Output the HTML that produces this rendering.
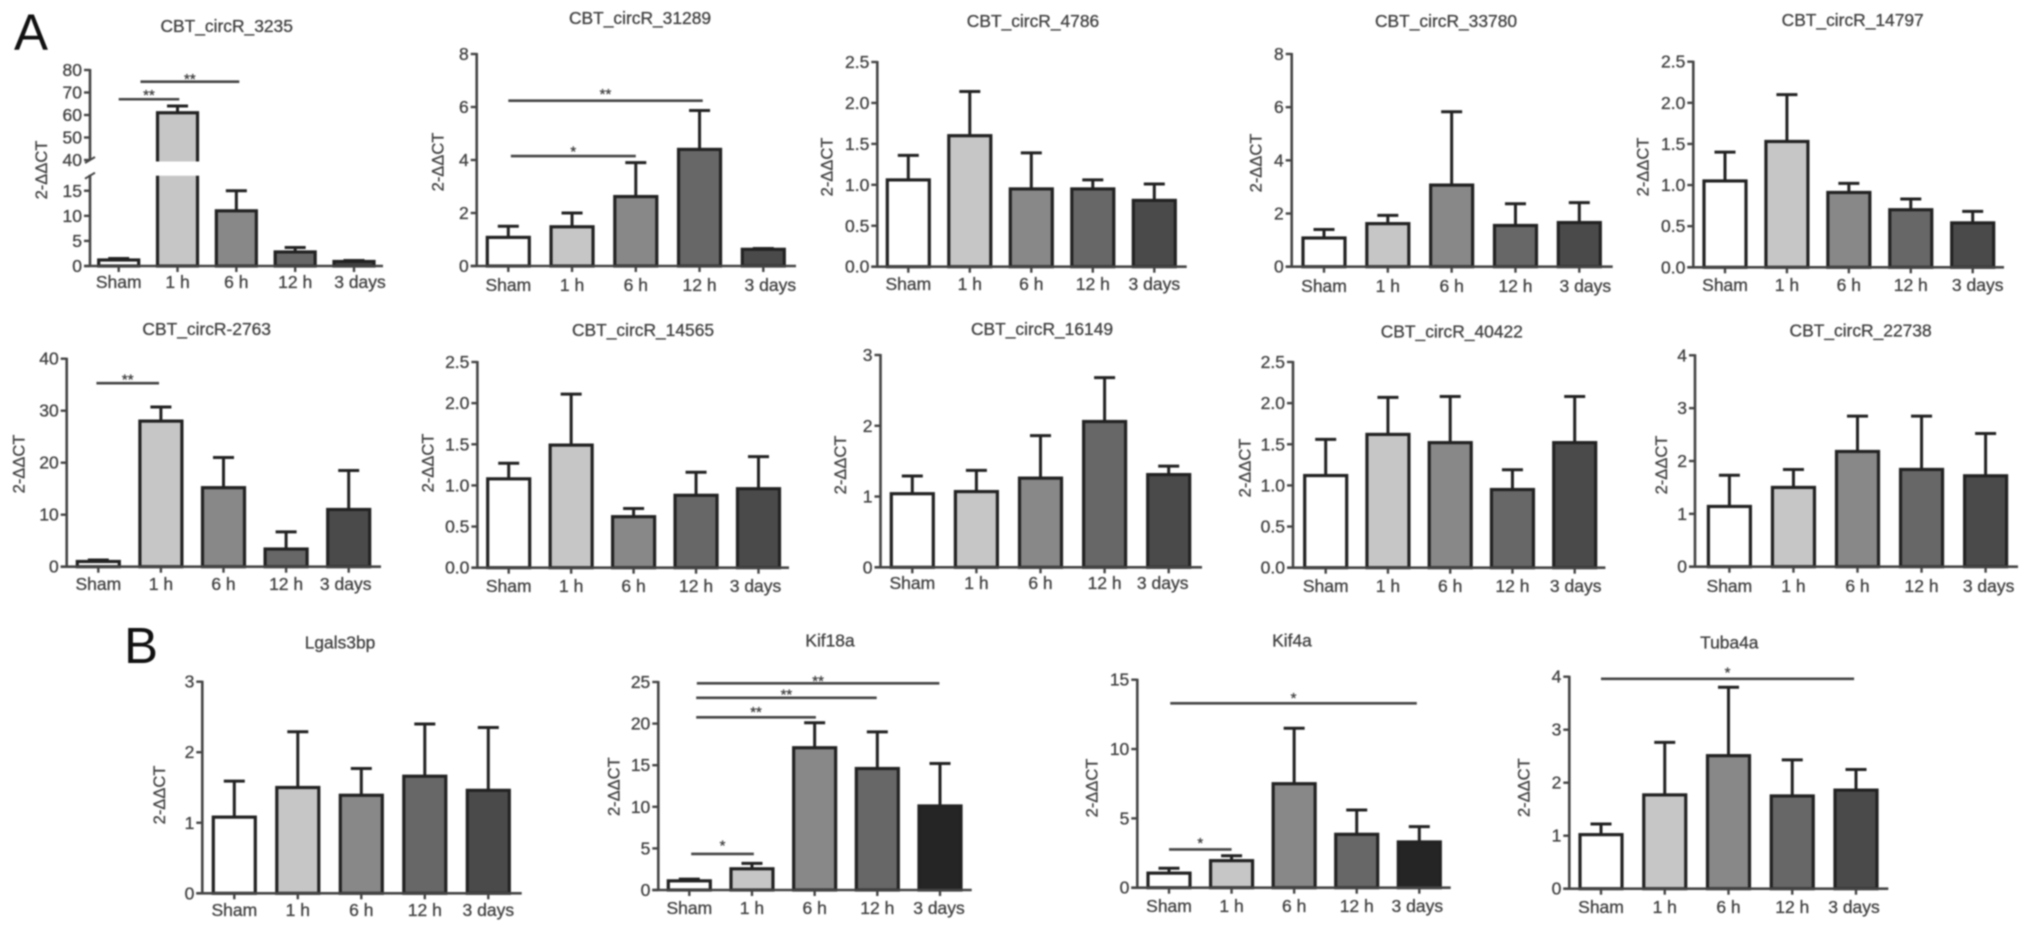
<!DOCTYPE html>
<html lang="en">
<head>
<meta charset="utf-8">
<title>circRNA and mRNA expression bar charts</title>
<style>
html,body{margin:0;padding:0;background:#fff;width:2032px;height:931px;overflow:hidden}
svg{display:block;filter:blur(0.9px);font-family:"Liberation Sans",Arial,sans-serif}
text{fill:#404040;stroke:#404040;stroke-width:0.3px}
</style>
</head>
<body>
<svg id="figure" xmlns="http://www.w3.org/2000/svg" width="2032" height="931" viewBox="0 0 2032 931">
  <rect width="2032" height="931" fill="#fff"/>
  <text x="14" y="50" font-size="51" style="fill:#111;stroke:none">A</text>
  <text x="124" y="663" font-size="51" style="fill:#111;stroke:none">B</text>
</svg>
<script>
// ---- shared categories and tick labels ----
const categories = ['Sham', '1 h', '6 h', '12 h', '3 days'];
const ticksBroken = ['0', '5', '10', '15', '40', '50', '60', '70', '80'];
const ticksTo8 = ['0', '2', '4', '6', '8'];
const ticksTo2p5 = ['0.0', '0.5', '1.0', '1.5', '2.0', '2.5'];
const ticksTo40 = ['0', '10', '20', '30', '40'];
const ticksTo3 = ['0', '1', '2', '3'];
const ticksTo4 = ['0', '1', '2', '3', '4'];
const ticksTo25 = ['0', '5', '10', '15', '20', '25'];
const ticksTo15 = ['0', '5', '10', '15'];

// ---- series: mean and upper error-bar value per category ----
const means3235 = [1.2, 61, 11, 2.8, 0.9];
const upper3235 = [1.5, 64, 15, 3.7, 1.1];
const means31289 = [1.08, 1.48, 2.62, 4.4, 0.63];
const upper31289 = [1.5, 2.0, 3.9, 5.87, 0.66];
const means4786 = [1.06, 1.6, 0.95, 0.95, 0.81];
const upper4786 = [1.36, 2.14, 1.39, 1.06, 1.01];
const means33780 = [1.08, 1.62, 3.07, 1.55, 1.66];
const upper33780 = [1.4, 1.93, 5.83, 2.37, 2.41];
const means14797 = [1.05, 1.53, 0.91, 0.7, 0.54];
const upper14797 = [1.4, 2.1, 1.02, 0.83, 0.68];
const means2763 = [1, 28, 15.2, 3.4, 11];
const upper2763 = [1.3, 30.7, 21, 6.7, 18.5];
const means14565 = [1.08, 1.49, 0.62, 0.88, 0.96];
const upper14565 = [1.27, 2.11, 0.72, 1.16, 1.35];
const means16149 = [1.04, 1.07, 1.26, 2.06, 1.31];
const upper16149 = [1.29, 1.37, 1.86, 2.68, 1.43];
const means40422 = [1.12, 1.62, 1.52, 0.95, 1.52];
const upper40422 = [1.56, 2.07, 2.08, 1.19, 2.08];
const means22738 = [1.14, 1.5, 2.18, 1.84, 1.72];
const upper22738 = [1.73, 1.84, 2.85, 2.85, 2.52];
const meansLgals = [1.08, 1.5, 1.39, 1.66, 1.46];
const upperLgals = [1.59, 2.29, 1.77, 2.4, 2.35];
const meansKif18a = [1.1, 2.55, 17.1, 14.6, 10.1];
const upperKif18a = [1.3, 3.2, 20.1, 19, 15.2];
const meansKif4a = [1.05, 1.95, 7.5, 3.85, 3.3];
const upperKif4a = [1.4, 2.3, 11.5, 5.6, 4.4];
const meansTuba = [1.02, 1.77, 2.51, 1.75, 1.86];
const upperTuba = [1.22, 2.76, 3.8, 2.43, 2.25];

// ---- significance brackets: start/end in category units, level in axis units ----
const sigFrom3235 = [0, 0.37];
const sigTo3235 = [1.03, 2.05];
const sigLevel3235 = [67, 74.8];
const sigMark3235 = ['**', '**'];
const sigFrom31289 = [0, 0.04];
const sigTo31289 = [3.05, 2];
const sigLevel31289 = [6.24, 4.15];
const sigMark31289 = ['**', '*'];
const sigFrom2763 = [-0.03];
const sigTo2763 = [0.97];
const sigLevel2763 = [35.3];
const sigMark2763 = ['**'];
const sigFromKif18a = [0.12, 0.11, 0.11, 0.03];
const sigToKif18a = [3.99, 2.99, 2.02, 1.03];
const sigLevelKif18a = [24.84, 23.1, 20.75, 4.33];
const sigMarkKif18a = ['**', '**', '**', '*'];
const sigFromKif4a = [0.02, 0];
const sigToKif4a = [3.96, 1];
const sigLevelKif4a = [13.3, 2.76];
const sigMarkKif4a = ['*', '*'];
const sigFromTuba = [0];
const sigToTuba = [3.97];
const sigLevelTuba = [3.96];
const sigMarkTuba = ['*'];

// ---- layout (pixels), kept apart from the data ----
const fills = ['#ffffff', '#c6c6c6', '#888888', '#676767', '#4a4a4a'];
const darkFills = ['#ffffff', '#c6c6c6', '#888888', '#676767', '#252525'];
const panels = [
  {id:'3235', title:'CBT_circR_3235', tx:226.7, ty:26, lx:41.7, ly:170, ax:90, right:383, c0:118.7, c4:354, half:20, base:288, ldx:6, ticks:ticksBroken, means:means3235, upper:upper3235,
   segs:[{a:0,b:18,ya:266,yb:175.7},{a:40,b:80,ya:160,yb:70}], sig:[sigFrom3235,sigTo3235,sigLevel3235,sigMark3235], gaps:[8,6]},
  {id:'31289', title:'CBT_circR_31289', tx:640, ty:18, lx:438, ly:162, ax:476.7, right:796, c0:508.3, c4:763.3, half:21, base:291, ldx:7, ticks:ticksTo8, means:means31289, upper:upper31289,
   segs:[{a:0,b:8,ya:266,yb:54}], sig:[sigFrom31289,sigTo31289,sigLevel31289,sigMark31289], gaps:[10,8]},
  {id:'4786', title:'CBT_circR_4786', tx:1033, ty:21, lx:827, ly:167, ax:877.3, right:1186.7, c0:908.3, c4:1154.3, half:21, base:290, ldx:0, ticks:ticksTo2p5, means:means4786, upper:upper4786,
   segs:[{a:0,b:2.5,ya:266.7,yb:62}]},
  {id:'33780', title:'CBT_circR_33780', tx:1446, ty:21, lx:1256, ly:163, ax:1291.7, right:1612.7, c0:1324, c4:1579.3, half:21, base:292, ldx:6, ticks:ticksTo8, means:means33780, upper:upper33780,
   segs:[{a:0,b:8,ya:266.7,yb:54}]},
  {id:'14797', title:'CBT_circR_14797', tx:1852.7, ty:20, lx:1643, ly:167, ax:1693.3, right:2004, c0:1725, c4:1972.7, half:21, base:291, ldx:5, ticks:ticksTo2p5, means:means14797, upper:upper14797,
   segs:[{a:0,b:2.5,ya:267.3,yb:61.7}]},
  {id:'2763', title:'CBT_circR-2763', tx:206.7, ty:329, lx:19, ly:464, ax:66.7, right:381, c0:98.3, c4:348.7, half:21, base:590, ldx:-3, ticks:ticksTo40, means:means2763, upper:upper2763,
   segs:[{a:0,b:40,ya:566.7,yb:358.7}], sig:[sigFrom2763,sigTo2763,sigLevel2763,sigMark2763], gaps:[7]},
  {id:'14565', title:'CBT_circR_14565', tx:643, ty:330, lx:428, ly:463, ax:477.4, right:789, c0:508.7, c4:758.5, half:21, base:592, ldx:-3, ticks:ticksTo2p5, means:means14565, upper:upper14565,
   segs:[{a:0,b:2.5,ya:567.7,yb:362}]},
  {id:'16149', title:'CBT_circR_16149', tx:1042, ty:329, lx:840.5, ly:465, ax:880.5, right:1202, c0:912.3, c4:1168.7, half:21, base:589, ldx:-6, ticks:ticksTo3, means:means16149, upper:upper16149,
   segs:[{a:0,b:3,ya:567.3,yb:355}]},
  {id:'40422', title:'CBT_circR_40422', tx:1451.8, ty:331.7, lx:1245, ly:468, ax:1293, right:1605.4, c0:1325.7, c4:1574.7, half:21, base:592, ldx:1, ticks:ticksTo2p5, means:means40422, upper:upper40422,
   segs:[{a:0,b:2.5,ya:567.7,yb:362}]},
  {id:'22738', title:'CBT_circR_22738', tx:1860.6, ty:330.7, lx:1661.7, ly:465, ax:1695, right:2018, c0:1729.4, c4:1985.6, half:21, base:592, ldx:3, ticks:ticksTo4, means:means22738, upper:upper22738,
   segs:[{a:0,b:4,ya:566.7,yb:355.3}]},
  {id:'lgals3bp', title:'Lgals3bp', tx:340, ty:642.7, lx:159.3, ly:795, ax:202.3, right:521.7, c0:234.3, c4:488.3, half:21, base:916, ldx:0, ticks:ticksTo3, means:meansLgals, upper:upperLgals,
   segs:[{a:0,b:3,ya:893.3,yb:681.7}]},
  {id:'kif18a', title:'Kif18a', tx:830, ty:640.7, lx:614, ly:786.7, ax:658.3, right:971.7, c0:689.3, c4:940, half:21, base:914, ldx:-1, ticks:ticksTo25, means:meansKif18a, upper:upperKif18a, dark:true,
   segs:[{a:0,b:25,ya:890,yb:682}], sig:[sigFromKif18a,sigToKif18a,sigLevelKif18a,sigMarkKif18a], gaps:[6,7,9,12]},
  {id:'kif4a', title:'Kif4a', tx:1292, ty:640.7, lx:1092, ly:788, ax:1137.3, right:1450.7, c0:1169, c4:1419.3, half:21, base:912, ldx:-2, ticks:ticksTo15, means:meansKif4a, upper:upperKif4a, dark:true,
   segs:[{a:0,b:15,ya:887.7,yb:679.7}], sig:[sigFromKif4a,sigToKif4a,sigLevelKif4a,sigMarkKif4a], gaps:[9,10]},
  {id:'tuba4a', title:'Tuba4a', tx:1729.3, ty:642.7, lx:1524, ly:787.7, ax:1569.3, right:1888.3, c0:1601, c4:1856, half:21, base:913, ldx:-2, ticks:ticksTo4, means:meansTuba, upper:upperTuba,
   segs:[{a:0,b:4,ya:888.7,yb:676.7}], sig:[sigFromTuba,sigToTuba,sigLevelTuba,sigMarkTuba], gaps:[10]}
];

const NS = 'http://www.w3.org/2000/svg';
const figure = document.getElementById('figure');
function mk(tag, props, parent, content) {
  const node = document.createElementNS(NS, tag);
  Object.keys(props).forEach(function (k) { node.setAttribute(k, props[k]); });
  if (content !== undefined) node.textContent = content;
  parent.appendChild(node);
  return node;
}
function yScale(p, v) {
  for (const s of p.segs) {
    if (v <= s.b) {
      const t = Math.max(v, s.a);
      return s.ya + (t - s.a) / (s.b - s.a) * (s.yb - s.ya);
    }
  }
  const last = p.segs[p.segs.length - 1];
  return last.ya + (v - last.a) / (last.b - last.a) * (last.yb - last.ya);
}
function xScale(p, i) {
  return p.c0 + i * (p.c4 - p.c0) / (categories.length - 1);
}

panels.forEach(function (p) {
  const g = mk('g', {}, figure);
  
  
  const y0 = yScale(p, 0);

  const title = mk('text', {x: p.tx, y: p.ty + 6, 'text-anchor': 'middle', 'font-size': 17.4}, g, p.title);
  
  

  const ylabel = mk('text', {x: p.lx, y: p.ly + 5.5, 'text-anchor': 'middle', 'font-size': 16.5, transform: 'rotate(-90 ' + p.lx + ' ' + p.ly + ')'}, g, '2-\u0394\u0394CT');
  
  

  // bars and error bars
  const palette = p.dark ? darkFills : fills;
  categories.forEach(function (cat, i) {
    const cx = xScale(p, i);
    const top = yScale(p, p.means[i]);
    const errTop = yScale(p, p.upper[i]);

    const stem = mk('line', {x1: cx, x2: cx, y1: top, y2: errTop, stroke: '#222', 'stroke-width': 3}, g);
    
    

    const cap = mk('line', {x1: cx - 10.5, x2: cx + 10.5, y1: errTop, y2: errTop, stroke: '#222', 'stroke-width': 3}, g);
    
    

    const bar = mk('rect', {x: cx - p.half, y: top, width: p.half * 2, height: Math.max(y0 - top, 0), fill: palette[i], stroke: '#222', 'stroke-width': 3.2}, g);
    
    

    // white gap where a tall bar crosses an axis break
    if (p.segs.length > 1 && p.means[i] >= p.segs[1].a) {
      const gap = mk('rect', {x: cx - p.half - 3, y: p.segs[1].ya + 1.5, width: p.half * 2 + 6, height: p.segs[0].yb - p.segs[1].ya - 1.5, fill: '#fff'}, g);
      
      
    }

    const xtick = mk('line', {x1: cx, x2: cx, y1: y0, y2: y0 + 6, stroke: '#444', 'stroke-width': 2.4}, g);
    
    

    const xlabel = mk('text', {x: cx + (i === categories.length - 1 ? p.ldx : 0), y: p.base, 'text-anchor': 'middle', 'font-size': 17.5}, g, cat);
    
    
  });

  // axes
  const xaxis = mk('line', {x1: p.ax - 6, x2: p.right, y1: y0, y2: y0, stroke: '#444', 'stroke-width': 2.6}, g);
  
  

  p.segs.forEach(function (s) {
    const yaxis = mk('line', {x1: p.ax, x2: p.ax, y1: s.ya, y2: s.yb - 1, stroke: '#444', 'stroke-width': 2.6}, g);
    
    
  });
  if (p.segs.length > 1) {
    [p.segs[1].ya, p.segs[0].yb].forEach(function (yb) {
      const slash = mk('line', {x1: p.ax - 5, x2: p.ax + 5, y1: yb + 3, y2: yb - 3, stroke: '#444', 'stroke-width': 2}, g);
      
      
    });
  }

  p.ticks.forEach(function (label) {
    const ty = yScale(p, Number(label));
    const tick = mk('line', {x1: p.ax - 6, x2: p.ax, y1: ty, y2: ty, stroke: '#444', 'stroke-width': 2.4}, g);
    
    

    const tl = mk('text', {x: p.ax - 8, y: ty + 6, 'text-anchor': 'end', 'font-size': 17.5}, g, label);
    
    
  });

  // significance brackets
  if (p.sig) {
    const step = (p.c4 - p.c0) / (categories.length - 1);
    p.sig[0].forEach(function (from, k) {
      const x1 = p.c0 + from * step;
      const x2 = p.c0 + p.sig[1][k] * step;
      const sy = yScale(p, p.sig[2][k]);
      const line = mk('line', {x1: x1, x2: x2, y1: sy, y2: sy, stroke: '#444', 'stroke-width': 2.6}, g);
      
      

      const mark = mk('text', {x: (x1 + x2) / 2, y: sy - p.gaps[k] + 8.5, 'text-anchor': 'middle', 'font-size': 15}, g, p.sig[3][k]);
      
      
    });
  }
});
</script>
</body>
</html>
